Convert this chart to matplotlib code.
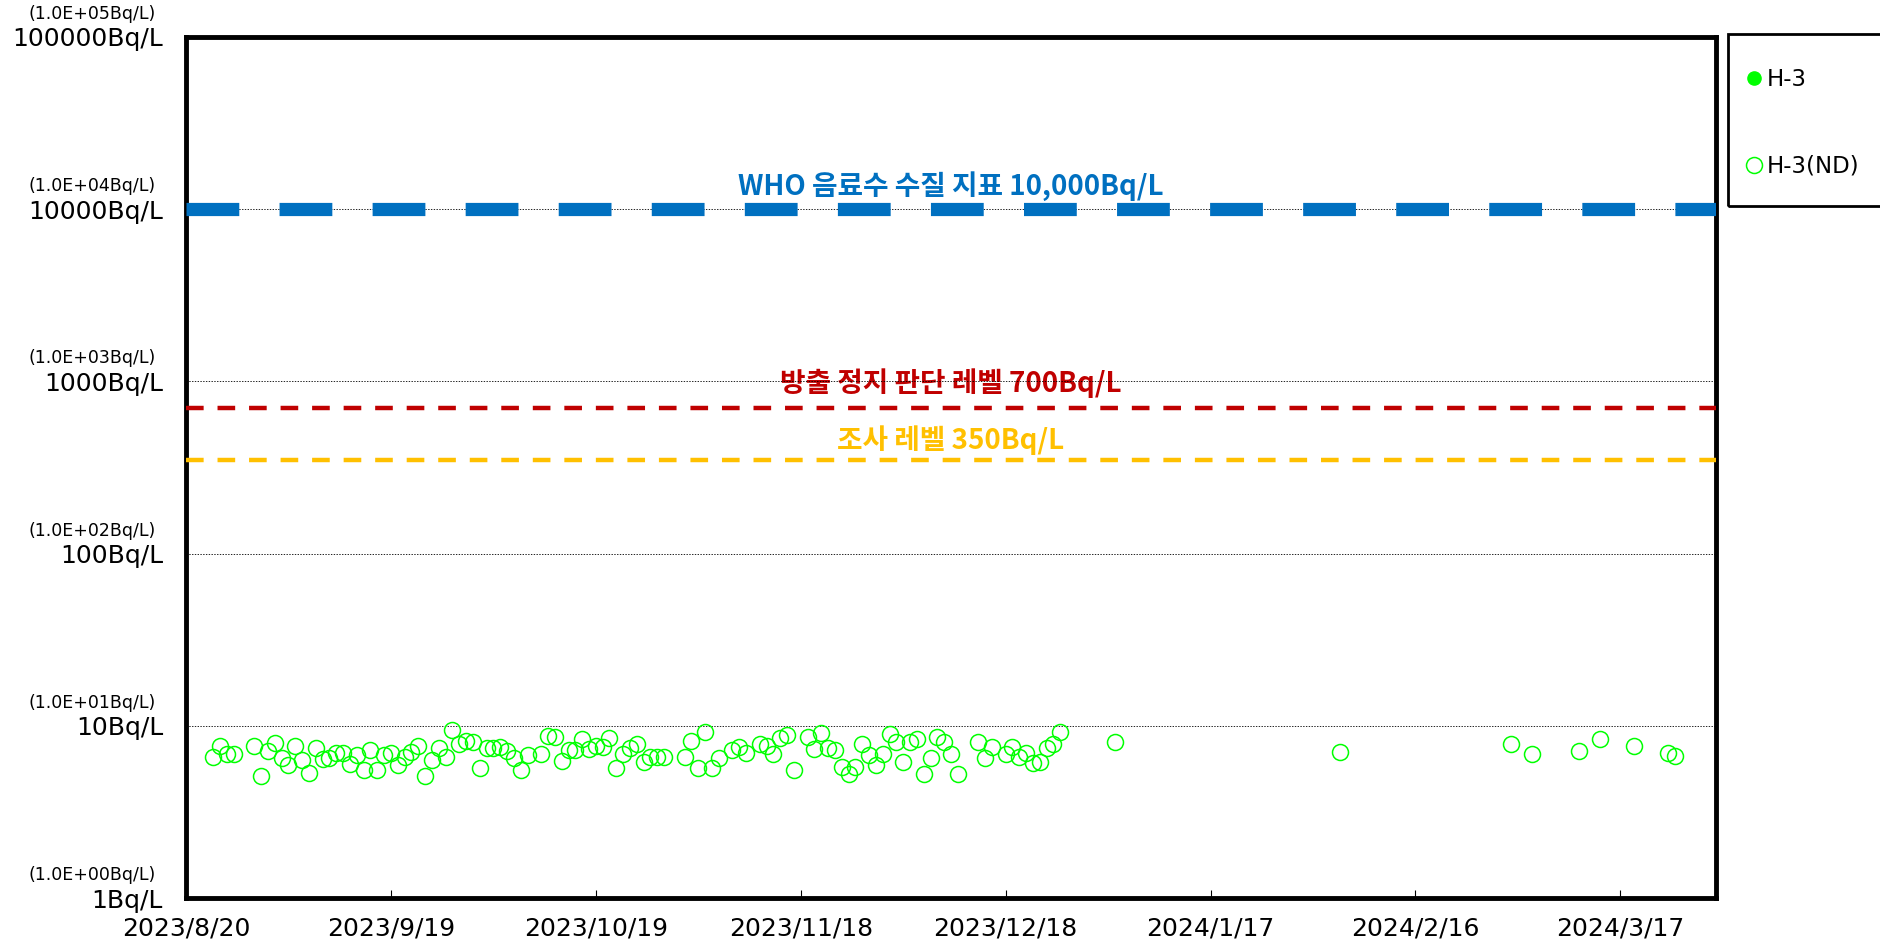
from datetime import datetime

import matplotlib
matplotlib.use("Agg")
import matplotlib.pyplot as plt
from matplotlib.patches import Rectangle
from matplotlib.ticker import NullLocator

plt.rcParams["lines.scale_dashes"] = False
plt.rcParams["font.family"] = ["DejaVu Sans"]

# H-3 (ND) measurements, Bq/L
nd_dates = [
    "2023-08-24", "2023-08-25", "2023-08-26", "2023-08-27", "2023-08-30", "2023-08-31",
    "2023-09-01", "2023-09-02", "2023-09-03", "2023-09-04", "2023-09-05", "2023-09-06",
    "2023-09-07", "2023-09-08", "2023-09-09", "2023-09-10", "2023-09-11", "2023-09-12",
    "2023-09-13", "2023-09-14", "2023-09-15", "2023-09-16", "2023-09-17", "2023-09-18",
    "2023-09-19", "2023-09-20", "2023-09-21", "2023-09-22", "2023-09-23", "2023-09-24",
    "2023-09-25", "2023-09-26", "2023-09-27", "2023-09-28", "2023-09-29", "2023-09-30",
    "2023-10-01", "2023-10-02", "2023-10-03", "2023-10-04", "2023-10-05", "2023-10-06",
    "2023-10-07", "2023-10-08", "2023-10-09", "2023-10-11", "2023-10-12", "2023-10-13",
    "2023-10-14", "2023-10-15", "2023-10-16", "2023-10-17", "2023-10-18", "2023-10-19",
    "2023-10-20", "2023-10-21", "2023-10-22", "2023-10-23", "2023-10-24", "2023-10-25",
    "2023-10-26", "2023-10-27", "2023-10-28", "2023-10-29", "2023-11-01", "2023-11-02",
    "2023-11-03", "2023-11-04", "2023-11-05", "2023-11-06", "2023-11-08", "2023-11-09",
    "2023-11-10", "2023-11-12", "2023-11-13", "2023-11-14", "2023-11-15", "2023-11-16",
    "2023-11-17", "2023-11-19", "2023-11-20", "2023-11-21", "2023-11-22", "2023-11-23",
    "2023-11-24", "2023-11-25", "2023-11-26", "2023-11-27", "2023-11-28", "2023-11-29",
    "2023-11-30", "2023-12-01", "2023-12-02", "2023-12-03", "2023-12-04", "2023-12-05",
    "2023-12-06", "2023-12-07", "2023-12-08", "2023-12-09", "2023-12-10", "2023-12-11",
    "2023-12-14", "2023-12-15", "2023-12-16", "2023-12-18", "2023-12-19", "2023-12-20",
    "2023-12-21", "2023-12-22", "2023-12-23", "2023-12-24", "2023-12-25", "2023-12-26",
    "2024-01-03", "2024-02-05", "2024-03-01", "2024-03-04", "2024-03-11", "2024-03-14",
    "2024-03-19", "2024-03-24", "2024-03-25",
]
nd_values = [
    6.62, 7.67, 6.83, 6.83, 7.63, 5.11,
    7.14, 7.98, 6.53, 5.92, 7.63, 6.33,
    5.30, 7.46, 6.39, 6.53, 6.98, 6.98,
    5.97, 6.77, 5.54, 7.24, 5.54, 6.77,
    6.92, 5.92, 6.62, 7.08, 7.63, 5.11,
    6.33, 7.40, 6.62, 9.45, 7.80, 8.16,
    8.09, 5.66, 7.40, 7.46, 7.56, 7.14,
    6.47, 5.54, 6.77, 6.83, 8.73, 8.65,
    6.25, 7.24, 7.24, 8.38, 7.30, 7.63,
    7.50, 8.53, 5.71, 6.83, 7.46, 7.80,
    6.19, 6.62, 6.62, 6.62, 6.62, 8.20,
    5.71, 9.25, 5.71, 6.53, 7.24, 7.56,
    6.92, 7.84, 7.63, 6.83, 8.53, 8.84,
    5.54, 8.65, 7.30, 9.04, 7.40, 7.24,
    5.79, 5.25, 5.74, 7.84, 6.77, 5.92,
    6.86, 8.92, 8.09, 6.14, 8.09, 8.38,
    5.25, 6.53, 8.65, 8.02, 6.83, 5.23,
    8.09, 6.53, 7.56, 6.83, 7.56, 6.56,
    6.92, 6.11, 6.19, 7.40, 7.84, 9.25,
    8.09, 7.01, 7.84, 6.83, 7.14, 8.38,
    7.63, 6.92, 6.71,
]
# detected H-3 (none in this period)
detected_dates = []
detected_values = []

x_start = "2023/8/20"
x_end = "2024/3/31"
x_ticks = ["2023/8/20", "2023/9/19", "2023/10/19", "2023/11/18",
           "2023/12/18", "2024/1/17", "2024/2/16", "2024/3/17"]

y_ticks = [1, 10, 100, 1000, 10000, 100000]
y_labels = ["1Bq/L", "10Bq/L", "100Bq/L", "1000Bq/L", "10000Bq/L", "100000Bq/L"]
y_sublabels = ["(1.0E+00Bq/L)", "(1.0E+01Bq/L)", "(1.0E+02Bq/L)",
               "(1.0E+03Bq/L)", "(1.0E+04Bq/L)", "(1.0E+05Bq/L)"]

limit_values = [10000, 700, 350]
limit_texts = ["WHO 음료수 수질 지표 10,000Bq/L", "방출 정지 판단 레벨 700Bq/L", "조사 레벨 350Bq/L"]
limit_colors = ["#0070C0", "#C00000", "#FFC000"]

green = "#00FF00"

fig = plt.figure(figsize=(18.81, 9.46), dpi=100)
ax = fig.add_axes([186 / 1881, 48 / 946, 1530 / 1881, 861 / 946])

# reference levels (above the grid)
ax.axhline(limit_values[0], color=limit_colors[0], lw=9.5, dashes=(38, 29), zorder=3)
ax.axhline(limit_values[1], color=limit_colors[1], lw=3.2, dashes=(12.7, 10), zorder=3)
ax.axhline(limit_values[2], color=limit_colors[2], lw=3.2, dashes=(12.7, 10), zorder=3)

text_offsets = [10, 11.5, 7.7]
for value, text, color, off in zip(limit_values, limit_texts, limit_colors, text_offsets):
    ax.annotate(text, xy=(0.5, value), xycoords=("axes fraction", "data"),
                xytext=(0, off), textcoords="offset points", ha="center", va="baseline",
                color=color, fontsize=20, fontweight="bold",
                family=["Noto Sans CJK KR", "DejaVu Sans"], zorder=2)

nd_x = [datetime.strptime(d, "%Y-%m-%d") for d in nd_dates]
det_x = [datetime.strptime(d, "%Y-%m-%d") for d in detected_dates]
h_nd, = ax.plot(nd_x, nd_values, linestyle="none", marker="o", ms=11.5,
                mfc="none", mec=green, mew=1.1, label="H-3(ND)", zorder=4)
h_det, = ax.plot(det_x, detected_values, linestyle="none", marker="o", ms=9.5,
                 color=green, label="H-3", zorder=4)

ax.set_yscale("log")
ax.set_ylim(y_ticks[0], y_ticks[-1])
ax.set_yticks(y_ticks, labels=y_labels)
ax.yaxis.set_minor_locator(NullLocator())
ax.tick_params(axis="y", length=0, pad=16.5, labelsize=18)
for v, sub in zip(y_ticks, y_sublabels):
    ax.annotate(sub, xy=(0, v), xycoords=("axes fraction", "data"), xytext=(-22, 16.5),
                textcoords="offset points", ha="right", va="center", fontsize=12.5,
                annotation_clip=False)

tick_x = [datetime.strptime(t, "%Y/%m/%d") for t in x_ticks]
ax.set_xticks(tick_x, labels=x_ticks)
ax.set_xlim(datetime.strptime(x_start, "%Y/%m/%d"), datetime.strptime(x_end, "%Y/%m/%d"))
ax.tick_params(axis="x", direction="in", length=6, width=0.8, pad=13, labelsize=18)

ax.grid(axis="y", which="major", color="black", linestyle=(0, (1, 1)), lw=0.6)
ax.set_axisbelow(False)
for s in ax.spines.values():
    s.set_linewidth(3.5)
    s.set_color("black")

# legend box
fig.patches.append(Rectangle((1728 / 1881, 1 - 206 / 946), 170 / 1881, 172 / 946,
                             transform=fig.transFigure, fill=False, lw=2, ec="black"))
fig.legend([h_det, h_nd], ["H-3", "H-3(ND)"], loc="upper left",
           bbox_to_anchor=(1745 / 1881, 1 - 68 / 946), borderaxespad=0, borderpad=0,
           fontsize=16.5, frameon=False, labelspacing=2.78, handlelength=0.8,
           handletextpad=0.15)

fig.savefig("out.png", dpi=100)
